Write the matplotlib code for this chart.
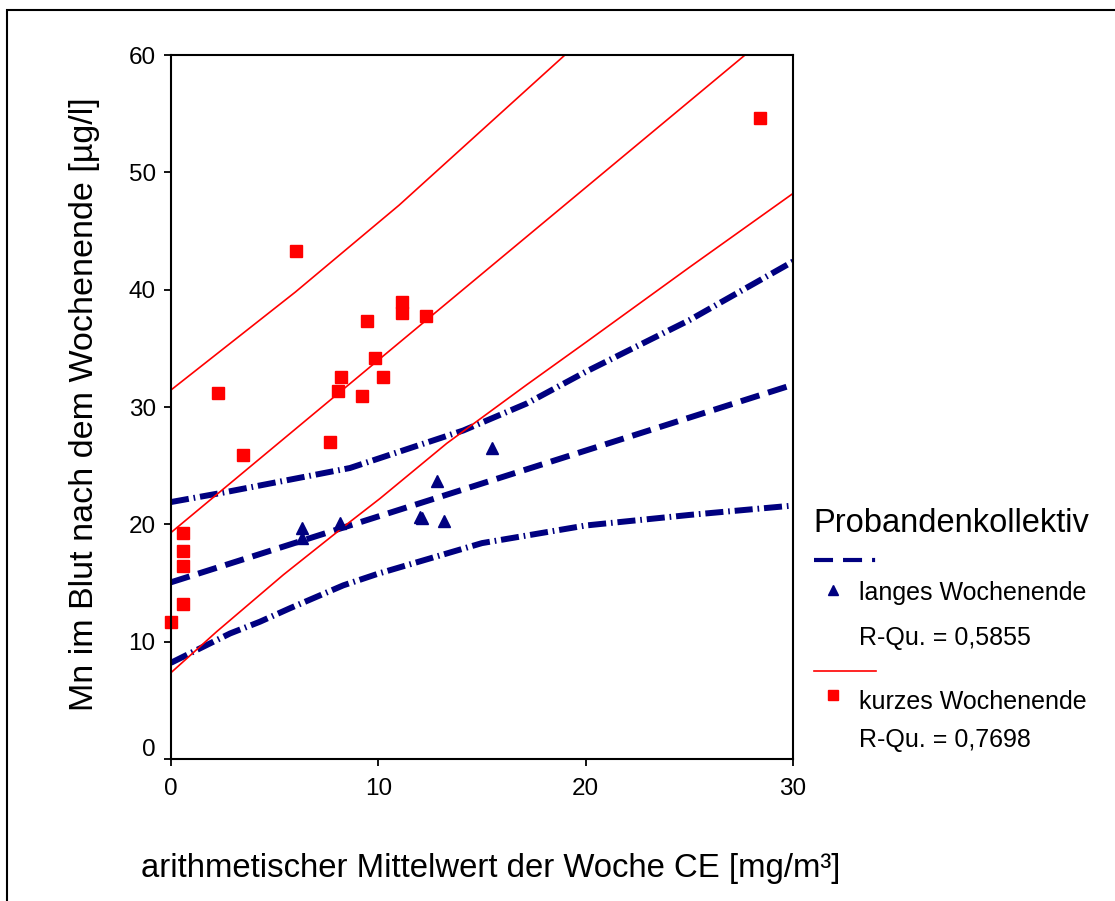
import matplotlib
matplotlib.use("Agg")
import matplotlib.pyplot as plt
import matplotlib.transforms as mtrans
from matplotlib.lines import Line2D
from matplotlib.patches import Rectangle

plt.rcParams['font.family'] = ['Liberation Sans', 'DejaVu Sans']
plt.rcParams['lines.scale_dashes'] = False

# kurzes Wochenende (Quadrate, rot)
kurz_x = [0.0, 0.56, 0.56, 0.56, 0.56, 2.27, 3.49, 6.05, 7.67, 8.06, 8.2, 9.2,
          9.44, 9.83, 10.21, 11.14, 11.14, 12.29, 28.43]
kurz_y = [11.7, 13.2, 16.45, 17.7, 19.3, 31.2, 25.9, 43.3, 27.0, 31.35, 32.55,
          30.95, 37.35, 34.2, 32.55, 38.95, 38.05, 37.75, 54.65]
kurz_fit_x = [0, 30]
kurz_fit_y = [19.3, 63.4]
kurz_ob_x = [0, 6, 11, 19, 22]
kurz_ob_y = [31.45, 39.8, 47.2, 60.0, 64.6]
kurz_un_x = [0, 2.2, 5.42, 8.55, 10.08, 13.3, 17.16, 20, 25, 30]
kurz_un_y = [7.36, 10.85, 15.7, 20.1, 22.2, 26.9, 31.9, 35.5, 41.9, 48.2]

# langes Wochenende (Dreiecke, blau)
lang_x = [6.3, 6.3, 8.15, 12.0, 12.1, 12.82, 13.17, 15.47]
lang_y = [19.65, 18.8, 20.1, 20.6, 20.5, 23.7, 20.3, 26.5]
lang_fit_x = [0, 30]
lang_fit_y = [15.06, 31.9]
lang_ob_x = [0, 2.5, 8.63, 14.1, 17.16, 20, 25, 30]
lang_ob_y = [21.9, 22.7, 24.8, 28.0, 30.3, 33.0, 37.4, 42.4]
lang_un_x = [0, 1.56, 2.85, 4.29, 5.74, 8.31, 10, 15, 20, 25, 30]
lang_un_y = [8.2, 9.57, 10.7, 11.7, 12.85, 14.8, 15.8, 18.4, 19.9, 20.8, 21.6]

rq_lang = "0,5855"
rq_kurz = "0,7698"

rot = '#FF0000'
blau = '#000080'
strich = (0, (14, 6.5))
strichpunkt = (0, (13, 3.5, 1.2, 3.5))

fig = plt.figure(figsize=(11.15, 9.01), dpi=100)
ax = fig.add_axes([171 / 1115, 1 - 759 / 901, 622 / 1115, 704 / 901])

ax.plot(lang_ob_x, lang_ob_y, color=blau, lw=4.3, linestyle=strichpunkt)
ax.plot(lang_un_x, lang_un_y, color=blau, lw=4.3, linestyle=strichpunkt)
ax.plot(lang_fit_x, lang_fit_y, color=blau, lw=4.3, linestyle=strich)

ax.plot(kurz_ob_x, kurz_ob_y, color=rot, lw=1.2)
ax.plot(kurz_un_x, kurz_un_y, color=rot, lw=1.2)
ax.plot(kurz_fit_x, kurz_fit_y, color=rot, lw=1.2)

ax.plot(lang_x, lang_y, linestyle='none', marker='^', ms=8, color=blau)
ax.plot(kurz_x, kurz_y, linestyle='none', marker='s', ms=8, color=rot,
        clip_on=False)

ax.set_xlim(0, 30)
ax.set_ylim(0, 60)
ax.set_xticks([0, 10, 20, 30])
ax.set_yticks(range(0, 61, 10))
ax.tick_params(direction='out', length=5, width=1.3, labelsize=17.5)
ax.tick_params(axis='x', pad=8.5)
ax.tick_params(axis='y', pad=6)
for s in ax.spines.values():
    s.set_linewidth(1.5)

# die Null an der y-Achse sitzt etwas höher
fig.canvas.draw()
null = ax.get_yticklabels()[0]
null.set_transform(null.get_transform() +
                   mtrans.ScaledTranslation(0, 8 / 72, fig.dpi_scale_trans))

fig.text(491 / 1115, 1 - 868 / 901, "arithmetischer Mittelwert der Woche CE [mg/m³]",
         fontsize=23.7, ha='center', va='center')
fig.text(85 / 1115, 1 - 404 / 901, "Mn im Blut nach dem Wochenende [µg/l]",
         fontsize=24.5, ha='center', va='center', rotation=90)

# Legende
def fx(px):
    return px / 1115

def fy(py):
    return 1 - py / 901

fig.text(fx(813), fy(523), "Probandenkollektiv", fontsize=23.5, va='center')
fig.add_artist(Line2D([fx(814), fx(876)], [fy(560), fy(560)], color=blau, lw=3,
                      linestyle=(0, (13.7, 7.2, 13.7, 7.2, 2.2, 7.2))))
fig.add_artist(Line2D([fx(833)], [fy(590)], marker='^', ms=7, color=blau))
fig.text(fx(859), fy(593), "langes Wochenende", fontsize=18, va='center')
fig.text(fx(859), fy(638), "R-Qu. = " + rq_lang, fontsize=18, va='center')
fig.add_artist(Line2D([fx(814), fx(876)], [fy(671), fy(671)], color=rot, lw=1.2))
fig.add_artist(Line2D([fx(833)], [fy(695)], marker='s', ms=7.5, color=rot))
fig.text(fx(859), fy(702), "kurzes Wochenende", fontsize=18, va='center')
fig.text(fx(859), fy(740), "R-Qu. = " + rq_kurz, fontsize=18, va='center')

# Rahmen um die Grafik
fig.add_artist(Rectangle((fx(7), -0.1), 1.2, fy(10) + 0.1, fill=False,
                         lw=1.5, edgecolor='black', transform=fig.transFigure))

fig.savefig("out.png", dpi=100)
